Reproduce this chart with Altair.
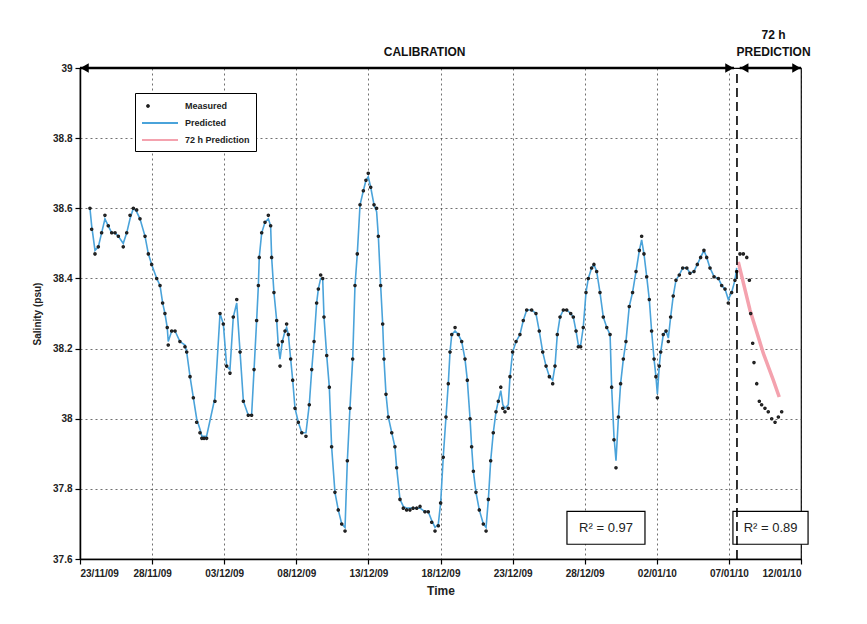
import json
import altair as alt
import pandas as pd

# ---------------- data (days since 23/11/2009 00:00) ----------------
cal_day = [0.69, 0.81, 1.04, 1.27, 1.50, 1.73, 1.96, 2.20, 2.43, 2.66, 3.00, 3.24, 3.47, 3.70, 3.93,
           4.16, 4.51, 4.74, 4.97, 5.32, 5.55, 5.73, 5.89, 6.05, 6.12, 6.36, 6.59, 6.93, 7.28, 7.40,
           7.63, 7.86, 8.09, 8.32, 8.45, 8.60, 8.78, 9.36, 9.71, 9.94, 10.17, 10.40, 10.63, 10.87, 11.10,
           11.33, 11.67, 11.90, 12.07, 12.25, 12.37, 12.43, 12.60, 12.83, 13.06, 13.22, 13.29, 13.45, 13.64, 13.75,
           13.87, 14.03, 14.22, 14.33, 14.45, 14.61, 14.75, 14.91, 15.14, 15.38, 15.67, 15.90, 16.07, 16.23, 16.41,
           16.53, 16.69, 16.83, 16.92, 17.11, 17.29, 17.45, 17.68, 17.91, 18.15, 18.38, 18.54, 18.72, 18.91, 19.07,
           19.23, 19.42, 19.65, 19.83, 19.99, 20.16, 20.39, 20.57, 20.69, 20.85, 20.99, 21.08, 21.22, 21.38, 21.62,
           21.84, 21.96, 22.19, 22.42, 22.65, 22.88, 23.10, 23.35, 23.58, 23.92, 24.15, 24.39, 24.62, 24.85, 25.01,
           25.19, 25.38, 25.54, 25.66, 25.78, 26.01, 26.24, 26.47, 26.70, 26.86, 27.05, 27.16, 27.28, 27.46, 27.69,
           27.97, 28.16, 28.32, 28.48, 28.66, 28.85, 29.01, 29.18, 29.32, 29.47, 29.70, 29.82, 30.00, 30.24, 30.51,
           30.74, 30.98, 31.32, 31.62, 31.85, 32.09, 32.32, 32.55, 32.78, 32.94, 33.10, 33.29, 33.52, 33.75, 34.03,
           34.21, 34.40, 34.56, 34.72, 34.90, 35.09, 35.25, 35.48, 35.64, 35.83, 36.06, 36.29, 36.53, 36.76, 36.87,
           37.03, 37.17, 37.34, 37.49, 37.68, 37.86, 38.09, 38.32, 38.56, 38.79, 38.95, 39.11, 39.30, 39.48, 39.64,
           39.81, 39.94, 40.04, 40.17, 40.27, 40.45, 40.64, 40.80, 40.96, 41.14, 41.33, 41.56, 41.80, 42.08, 42.30,
           42.58, 42.81, 43.04, 43.27, 43.46, 43.69, 43.97, 44.27, 44.50, 44.73, 44.96, 45.19, 45.42, 45.54]

cal_measured = [38.60, 38.54, 38.47, 38.49, 38.53, 38.58, 38.55, 38.53, 38.53, 38.52, 38.49, 38.53, 38.58, 38.60, 38.595,
                38.57, 38.52, 38.47, 38.44, 38.40, 38.38, 38.33, 38.30, 38.26, 38.21, 38.25, 38.25, 38.22, 38.205, 38.19,
                38.12, 38.06, 37.99, 37.96, 37.944, 37.944, 37.944, 38.05, 38.30, 38.27, 38.15, 38.13, 38.29, 38.34, 38.19,
                38.05, 38.01, 38.01, 38.14, 38.28, 38.38, 38.46, 38.53, 38.56, 38.58, 38.55, 38.46, 38.36, 38.28, 38.21,
                38.15, 38.22, 38.25, 38.27, 38.24, 38.17, 38.11, 38.03, 37.99, 37.96, 37.95, 38.04, 38.14, 38.22, 38.33,
                38.37, 38.41, 38.40, 38.29, 38.18, 38.09, 37.92, 37.79, 37.74, 37.70, 37.68, 37.88, 38.03, 38.17, 38.38,
                38.47, 38.61, 38.65, 38.68, 38.70, 38.66, 38.61, 38.60, 38.52, 38.38, 38.27, 38.17, 38.07, 38.005, 37.96,
                37.92, 37.86, 37.77, 37.745, 37.74, 37.74, 37.745, 37.745, 37.75, 37.735, 37.735, 37.705, 37.68, 37.695, 37.76,
                37.89, 38.005, 38.10, 38.19, 38.24, 38.26, 38.24, 38.22, 38.17, 38.11, 38.00, 37.92, 37.85, 37.79, 37.74,
                37.70, 37.68, 37.77, 37.88, 37.96, 38.02, 38.05, 38.09, 38.03, 38.02, 38.03, 38.12, 38.19, 38.22, 38.24,
                38.28, 38.31, 38.31, 38.30, 38.25, 38.19, 38.15, 38.12, 38.10, 38.15, 38.24, 38.29, 38.31, 38.31, 38.30,
                38.29, 38.25, 38.205, 38.205, 38.26, 38.36, 38.40, 38.43, 38.44, 38.42, 38.36, 38.29, 38.26, 38.24, 38.09,
                37.94, 37.86, 38.005, 38.10, 38.17, 38.22, 38.32, 38.36, 38.42, 38.48, 38.52, 38.47, 38.405, 38.34, 38.25,
                38.17, 38.12, 38.06, 38.15, 38.19, 38.24, 38.25, 38.22, 38.29, 38.35, 38.395, 38.41, 38.43, 38.43, 38.415,
                38.42, 38.44, 38.46, 38.48, 38.46, 38.43, 38.405, 38.40, 38.38, 38.37, 38.33, 38.36, 38.395, 38.42]

cal_predicted = [38.60, 38.55, 38.48, 38.49, 38.53, 38.57, 38.55, 38.53, 38.53, 38.52, 38.50, 38.53, 38.57, 38.60, 38.59,
                 38.57, 38.52, 38.47, 38.44, 38.40, 38.38, 38.33, 38.30, 38.26, 38.22, 38.25, 38.25, 38.22, 38.21, 38.19,
                 38.12, 38.06, 38.00, 37.97, 37.95, 37.95, 37.95, 38.06, 38.30, 38.27, 38.15, 38.14, 38.29, 38.33, 38.19,
                 38.05, 38.01, 38.01, 38.14, 38.28, 38.38, 38.46, 38.53, 38.56, 38.57, 38.55, 38.46, 38.36, 38.28, 38.21,
                 38.17, 38.22, 38.25, 38.26, 38.24, 38.17, 38.11, 38.03, 37.99, 37.96, 37.96, 38.04, 38.14, 38.22, 38.33,
                 38.37, 38.40, 38.40, 38.29, 38.18, 38.09, 37.92, 37.79, 37.74, 37.70, 37.69, 37.88, 38.03, 38.17, 38.38,
                 38.47, 38.61, 38.65, 38.68, 38.69, 38.66, 38.61, 38.59, 38.52, 38.38, 38.27, 38.17, 38.07, 38.005, 37.96,
                 37.92, 37.86, 37.77, 37.75, 37.745, 37.745, 37.745, 37.745, 37.745, 37.735, 37.735, 37.71, 37.69, 37.70, 37.76,
                 37.89, 38.005, 38.10, 38.19, 38.24, 38.25, 38.24, 38.22, 38.17, 38.11, 38.00, 37.92, 37.85, 37.79, 37.74,
                 37.70, 37.69, 37.77, 37.88, 37.96, 38.02, 38.05, 38.08, 38.04, 38.03, 38.04, 38.12, 38.19, 38.22, 38.24,
                 38.28, 38.31, 38.31, 38.30, 38.25, 38.19, 38.15, 38.12, 38.11, 38.15, 38.24, 38.29, 38.31, 38.31, 38.30,
                 38.29, 38.25, 38.21, 38.21, 38.26, 38.36, 38.40, 38.43, 38.44, 38.42, 38.36, 38.29, 38.26, 38.24, 38.09,
                 37.95, 37.88, 38.005, 38.10, 38.17, 38.22, 38.32, 38.36, 38.42, 38.48, 38.51, 38.47, 38.405, 38.34, 38.25,
                 38.17, 38.12, 38.07, 38.15, 38.19, 38.24, 38.25, 38.23, 38.29, 38.35, 38.395, 38.41, 38.43, 38.43, 38.415,
                 38.42, 38.44, 38.46, 38.48, 38.46, 38.43, 38.405, 38.40, 38.38, 38.37, 38.34, 38.36, 38.395, 38.43]

pred_day = [45.77, 46.00, 46.24, 46.42, 46.51, 46.65, 46.74, 46.93, 47.11, 47.27, 47.50, 47.73, 47.97, 48.20, 48.43, 48.66]
pred_measured = [38.47, 38.47, 38.46, 38.395, 38.30, 38.215, 38.16, 38.10, 38.05, 38.04, 38.03, 38.02, 38.00, 37.99, 38.005, 38.02]

p72_day = [45.65, 46.46, 47.39, 48.08, 48.49]
p72_value = [38.447, 38.31, 38.186, 38.11, 38.062]

series_names = ["Measured", "Predicted", "72 h Prediction"]
x_grid_days = [0, 2.5, 5, 7.5, 10, 12.5, 15, 17.5, 20, 22.5, 25, 27.5, 30, 32.5, 35, 37.5, 40, 42.5, 45, 47.5, 50]
x_tick_labels = ["23/11/09", "28/11/09", "03/12/09", "08/12/09", "13/12/09", "18/12/09",
                 "23/12/09", "28/12/09", "02/01/10", "07/01/10", "12/01/10"]
y_ticks = [37.6, 37.7, 37.8, 37.9, 38.0, 38.1, 38.2, 38.3, 38.4, 38.5, 38.6, 38.7, 38.8, 38.9, 39.0]

calib_start, calib_end = 0.0, 45.35
pred_start, pred_end = 45.75, 50.0
split_day = 45.56
r2_texts = ["R\u00b2 = 0.97", "R\u00b2 = 0.89"]

# ---------------- tables ----------------
meas_df = pd.DataFrame({"day": cal_day + pred_day, "value": cal_measured + pred_measured,
                        "series": "Measured"})
line_df = pd.DataFrame({"day": cal_day, "value": cal_predicted, "series": "Predicted"})
p72_df = pd.DataFrame({"day": p72_day, "value": p72_value, "series": "72 h Prediction"})

FONT = "Liberation Sans"
xs = alt.Scale(domain=[0, 50], nice=False, zero=False)
ys = alt.Scale(domain=[37.6, 39.0], nice=False, zero=False)

label_js = json.dumps(x_tick_labels)
x_axis = alt.Axis(
    values=x_grid_days,
    labelExpr=f"datum.value % 5 == 0 ? {label_js}[round(datum.value / 5)] : ''",
    grid=True, gridDash=[2, 3], gridColor="#333333", gridOpacity=0.7, gridWidth=1,
    tickOpacity={"condition": {"test": "datum.value % 5 != 0", "value": 0}, "value": 1},
    tickColor="black", tickSize=5, tickWidth=1.2,
    domainColor="black", domainWidth=1.5,
    labelFont=FONT, labelFontSize=10, labelFontWeight="bold", labelColor="#222222", labelPadding=4,
    title="Time", titleFont=FONT, titleFontSize=12, titleFontWeight="bold", titleColor="#222222",
    titlePadding=7,
)
y_axis = alt.Axis(
    values=y_ticks,
    labelExpr="(round(datum.value * 10) % 2 == 0) ? toString(round(datum.value * 10) / 10) : ''",
    grid=True, gridDash=[2, 3], gridColor="#333333", gridOpacity=0.7, gridWidth=1,
    tickColor="black", tickSize=5, tickWidth=1.2,
    domainColor="black", domainWidth=1.5,
    labelFont=FONT, labelFontSize=10, labelFontWeight="bold", labelColor="#222222", labelPadding=3,
    title="Salinity (psu)", titleFont=FONT, titleFontSize=10, titleFontWeight="bold",
    titleColor="#222222", titlePadding=10,
)

legend = alt.Legend(
    title=None, orient="none", legendX=55, legendY=25,
    strokeColor="black", fillColor="white", padding=6,
    labelFont=FONT, labelFontSize=9, labelFontWeight="bold", labelColor="#222222",
    labelOffset=30, rowPadding=5, symbolSize=144, symbolStrokeWidth=2,
)
color_scale = alt.Scale(domain=series_names, range=["#1e1e1e", "#4aa3da", "#f4a2ae"])
dot_path = "M0,-0.15A0.15,0.15 0 1,1 0,0.15A0.15,0.15 0 1,1 0,-0.15Z"
stroke_path = "M-1,0L5,0"
shape_scale = alt.Scale(domain=series_names, range=[dot_path, stroke_path, stroke_path])

X = alt.X("day:Q", scale=xs, axis=x_axis)
Y = alt.Y("value:Q", scale=ys, axis=y_axis)

pred_line = alt.Chart(line_df).mark_line(strokeWidth=1.6).encode(
    x=X, y=Y, color=alt.Color("series:N", scale=color_scale, legend=legend))
p72_line = alt.Chart(p72_df).mark_line(strokeWidth=3.5).encode(
    x="day:Q", y="value:Q", color=alt.Color("series:N", scale=color_scale, legend=legend))
dots = alt.Chart(meas_df).mark_point(filled=False, size=170, strokeWidth=1.6, opacity=1).encode(
    x="day:Q", y="value:Q",
    color=alt.Color("series:N", scale=color_scale, legend=legend),
    shape=alt.Shape("series:N", scale=shape_scale, legend=legend))

# ---------------- annotations ----------------
arrow_df = pd.DataFrame({"d1": [calib_start, pred_start], "d2": [calib_end, pred_end], "v": [39.0, 39.0]})
arrows = alt.Chart(arrow_df).mark_rule(color="black", strokeWidth=2.5).encode(
    x="d1:Q", x2="d2:Q", y="v:Q")
left_heads = alt.Chart(pd.DataFrame({"d": [calib_start + 0.32, pred_start + 0.32], "v": [39.0, 39.0]})).mark_point(
    shape="triangle-left", filled=True, color="black", size=90, opacity=1).encode(x="d:Q", y="v:Q")
right_heads = alt.Chart(pd.DataFrame({"d": [calib_end - 0.32, pred_end - 0.32], "v": [39.0, 39.0]})).mark_point(
    shape="triangle-right", filled=True, color="black", size=90, opacity=1).encode(x="d:Q", y="v:Q")
split = alt.Chart(pd.DataFrame({"d": [split_day], "v1": [37.6], "v2": [39.0]})).mark_rule(
    color="black", strokeWidth=1.6, strokeDash=[9, 5]).encode(x="d:Q", y="v1:Q", y2="v2:Q")

title_df = pd.DataFrame({"d": [23.9, 48.1, 48.1], "v": [39.046, 39.094, 39.046],
                         "t": ["CALIBRATION", "72 h", "PREDICTION"]})
titles = alt.Chart(title_df).mark_text(font=FONT, fontSize=12, fontWeight="bold", color="#111111").encode(
    x="d:Q", y="v:Q", text="t:N")

box_df = pd.DataFrame({"d1": [33.77, 45.28], "d2": [39.18, 50.49], "v1": [37.642, 37.642],
                       "v2": [37.736, 37.736], "dc": [36.48, 47.89], "vc": [37.689, 37.689], "t": r2_texts})
boxes = alt.Chart(box_df).mark_rect(fill="white", stroke="black", strokeWidth=1.2).encode(
    x="d1:Q", x2="d2:Q", y="v1:Q", y2="v2:Q")
box_text = alt.Chart(box_df).mark_text(font=FONT, fontSize=13, color="#222222").encode(
    x="dc:Q", y="vc:Q", text="t:N")

chart = alt.layer(
    pred_line, p72_line, dots, boxes, box_text, split, arrows, left_heads, right_heads, titles
).properties(
    width=721, height=491,
    autosize=alt.AutoSizeParams(type="none"),
    padding={"left": 72, "top": 60, "right": 58, "bottom": 57},
    background="white",
).configure_view(stroke="black", strokeWidth=1.2)

chart.save("out.html", embed_options={"renderer": "svg", "actions": False})
